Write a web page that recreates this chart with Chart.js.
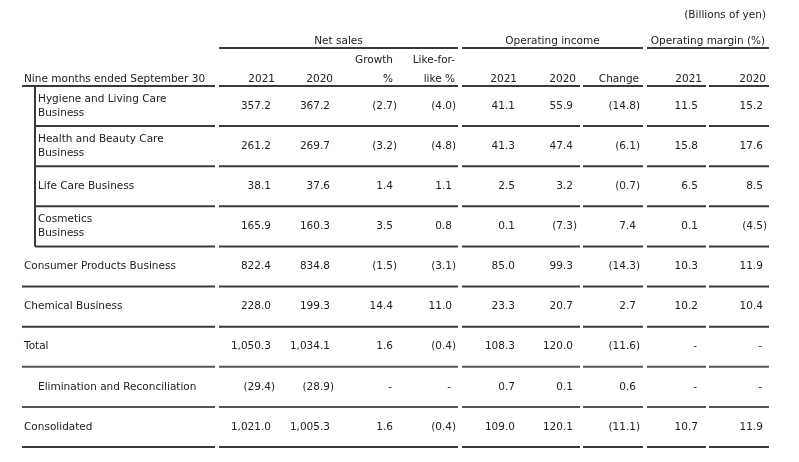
<!DOCTYPE html>
<html>
<head>
<meta charset="utf-8">
<script src="https://cdn.jsdelivr.net/npm/chart.js@4.4.1/dist/chart.umd.min.js"></script>
<style>
  html, body { margin: 0; padding: 0; background: #fff; }
</style>
</head>
<body>
<canvas id="segment-table" width="799" height="462"></canvas>
<script>
// Table content
const rowLabels = [
  ['Hygiene and Living Care', 'Business'],
  ['Health and Beauty Care', 'Business'],
  ['Life Care Business'],
  ['Cosmetics', 'Business'],
  ['Consumer Products Business'],
  ['Chemical Business'],
  ['Total'],
  ['Elimination and Reconciliation'],
  ['Consolidated']
];
const netSales2021   = [357.2, 261.2, 38.1, 165.9, 822.4, 228.0, 1050.3, -29.4, 1021.0];
const netSales2020   = [367.2, 269.7, 37.6, 160.3, 834.8, 199.3, 1034.1, -28.9, 1005.3];
const salesGrowth    = [-2.7, -3.2, 1.4, 3.5, -1.5, 14.4, 1.6, null, 1.6];
const likeForLike    = [-4.0, -4.8, 1.1, 0.8, -3.1, 11.0, -0.4, null, -0.4];
const opIncome2021   = [41.1, 41.3, 2.5, 0.1, 85.0, 23.3, 108.3, 0.7, 109.0];
const opIncome2020   = [55.9, 47.4, 3.2, -7.3, 99.3, 20.7, 120.0, 0.1, 120.1];
const opIncomeChange = [-14.8, -6.1, -0.7, 7.4, -14.3, 2.7, -11.6, 0.6, -11.1];
const opMargin2021   = [11.5, 15.8, 6.5, 0.1, 10.3, 10.2, null, null, 10.7];
const opMargin2020   = [15.2, 17.6, 8.5, -4.5, 11.9, 10.4, null, null, 11.9];

const columnSeries = [netSales2021, netSales2020, salesGrowth, likeForLike,
  opIncome2021, opIncome2020, opIncomeChange, opMargin2021, opMargin2020];
const columnHeaders = [['2021'], ['2020'], ['Growth', '%'], ['Like-for-', 'like %'],
  ['2021'], ['2020'], ['Change'], ['2021'], ['2020']];
const groupHeaders = ['Net sales', 'Operating income', 'Operating margin (%)'];
const stubHeader = 'Nine months ended September 30';
const unitNote = '(Billions of yen)';

// Layout (pixel units of the x scale)
const COL_RIGHT = [271, 330, 393, 452, 515, 573, 636, 698, 763];
const HEAD_RIGHT = [275, 333, 393, 455, 517, 576, 639, 702, 766];
const GROUP_SPAN = [[219, 458], [462, 643], [647, 769]];
const CELL_SPAN = [[219, 458], [462, 580], [583, 643], [647, 706], [709, 769]];
const STUB_SPAN = [22, 215];
const SUB_X = 35;
const INDENTED = [true, true, true, true, false, false, false, true, false];
const SUB_ROWS = 4;
const FONT = '10.5px "DejaVu Sans", Verdana, sans-serif';
const TEXT = '#222';
const RULE = '#3a3a3a';

function formatCell(v) {
  if (v === null) return '-';
  const s = Math.abs(v).toLocaleString('en-US', { minimumFractionDigits: 1, maximumFractionDigits: 1 });
  return v < 0 ? '(' + s + ')' : s;
}

function hLine(ctx, x0, x1, y, color) {
  ctx.strokeStyle = color || RULE;
  ctx.lineWidth = 2;
  ctx.beginPath();
  ctx.moveTo(x0, y);
  ctx.lineTo(x1, y);
  ctx.stroke();
}

const tablePlugin = {
  id: 'tableText',
  afterDatasetsDraw(chart) {
    const { ctx, scales: { x, y }, chartArea } = chart;
    const half = (y.getPixelForValue(1) - y.getPixelForValue(0)) / 2;
    const top = chartArea.top;
    ctx.save();
    ctx.font = FONT;
    ctx.fillStyle = TEXT;
    ctx.textBaseline = 'middle';

    // headers
    ctx.textAlign = 'right';
    ctx.fillText(unitNote, x.getPixelForValue(766), top - 71);
    ctx.textAlign = 'center';
    groupHeaders.forEach((g, i) => {
      const [a, b] = GROUP_SPAN[i];
      ctx.fillText(g, (x.getPixelForValue(a) + x.getPixelForValue(b)) / 2, top - 45);
      hLine(ctx, x.getPixelForValue(a), x.getPixelForValue(b), top - 38);
    });
    ctx.textAlign = 'left';
    ctx.fillText(stubHeader, x.getPixelForValue(24), top - 7);
    ctx.textAlign = 'right';
    columnHeaders.forEach((lines, i) => {
      const hx = x.getPixelForValue(HEAD_RIGHT[i]);
      lines.forEach((t, k) => {
        ctx.fillText(t, hx, top - 7 - (lines.length - 1 - k) * 19);
      });
    });

    // row rules
    const drawRule = (yy, startX, color) => {
      hLine(ctx, x.getPixelForValue(startX), x.getPixelForValue(STUB_SPAN[1]), yy, color);
      CELL_SPAN.forEach(([a, b]) => hLine(ctx, x.getPixelForValue(a), x.getPixelForValue(b), yy, color));
    };
    drawRule(top, STUB_SPAN[0]);
    rowLabels.forEach((_, i) => {
      const yy = y.getPixelForValue(i) + half;
      const color = (i === 6 || i === 7) ? '#555' : RULE;
      drawRule(yy, i < SUB_ROWS ? SUB_X : STUB_SPAN[0], color);
    });
    // sub-row bracket
    ctx.strokeStyle = RULE;
    ctx.lineWidth = 2;
    ctx.beginPath();
    ctx.moveTo(x.getPixelForValue(SUB_X), top);
    ctx.lineTo(x.getPixelForValue(SUB_X), y.getPixelForValue(SUB_ROWS - 1) + half);
    ctx.stroke();

    // row labels
    ctx.textAlign = 'left';
    rowLabels.forEach((lines, i) => {
      const cy = y.getPixelForValue(i);
      const lx = x.getPixelForValue(INDENTED[i] ? 38 : 24);
      lines.forEach((t, k) => {
        ctx.fillText(t, lx, cy + (k - (lines.length - 1) / 2) * 14);
      });
    });

    // cell values, positioned by the dataset elements
    const paren = ctx.measureText(')').width;
    ctx.textAlign = 'right';
    chart.data.datasets.forEach((ds, di) => {
      const meta = chart.getDatasetMeta(di);
      meta.data.forEach((pt, i) => {
        const v = ds.data[i].v;
        const t = formatCell(v);
        let px = pt.x;
        if (v === null) px -= 1;
        else if (v < 0) px += paren;
        ctx.fillText(t, px, pt.y);
      });
    });
    ctx.restore();
  }
};

const ctx = document.getElementById('segment-table').getContext('2d');
new Chart(ctx, {
  type: 'scatter',
  data: {
    datasets: columnSeries.map((series, c) => ({
      label: columnHeaders[c].join(' '),
      data: series.map((v, i) => ({ x: COL_RIGHT[c], y: i, v: v })),
      pointRadius: 0,
      pointHoverRadius: 0
    }))
  },
  options: {
    responsive: false,
    animation: false,
    devicePixelRatio: 1,
    layout: { padding: { top: 86, bottom: 15, left: 0, right: 0 } },
    scales: {
      x: { type: 'linear', min: 0, max: 799, display: false },
      y: { type: 'category', labels: rowLabels.map(l => l.join(' ')), offset: true, display: false }
    },
    plugins: { legend: { display: false }, tooltip: { enabled: false } }
  },
  plugins: [tablePlugin]
});
</script>
</body>
</html>
